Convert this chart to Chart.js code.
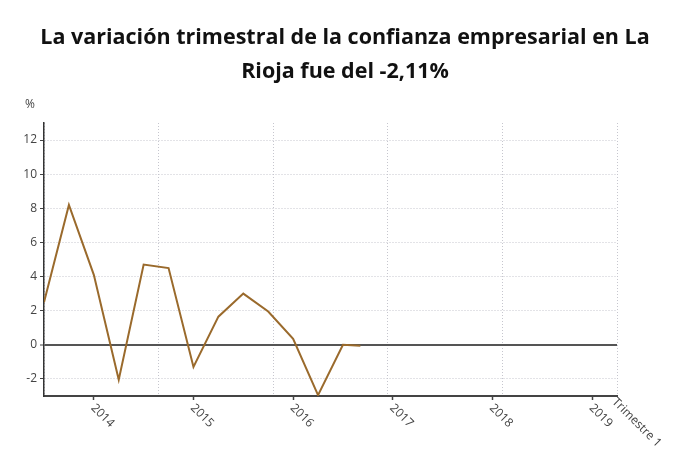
<!DOCTYPE html>
<html>
<head>
<meta charset="utf-8">
<script src="https://cdn.jsdelivr.net/npm/chart.js@4/dist/chart.umd.min.js"></script>
<style>
html,body{margin:0;padding:0;background:#fff;}
#wrap{width:690px;height:465px;}
</style>
</head>
<body>
<div id="wrap"><canvas id="c" width="690" height="465"></canvas></div>
<script>
const titleLines = ['La variación trimestral de la confianza empresarial en La', 'Rioja fue del -2,11%'];
const unitLabel = '%';
const axisLabel = 'Trimestre 1';
// x position in quarters (0 = 3rd quarter 2013); last point is where the line stops in the picture
const quarterIdx = [0, 1, 2, 3, 4, 5, 6, 7, 8, 9, 10, 11, 12, 12.7];
const values = [2.5, 8.2, 4.1, -2.05, 4.7, 4.5, -1.3, 1.65, 3.0, 1.95, 0.35, -2.95, 0.0, -0.05];
const yearTickPos = [2, 6, 10, 14, 18, 22];
const yearLabels = ['2014', '2015', '2016', '2017', '2018', '2019'];
const gridPos = [0, 4.6, 9.2, 13.8, 18.4, 23];
const yTicks = [-2, 0, 2, 4, 6, 8, 10, 12];
const xMin = 0, xMax = 23, yMin = -3, yMax = 13;

const FONT = "'Open Sans', 'Noto Sans', sans-serif";

const labelPlugin = {
  id: 'rotLabels',
  afterDraw(chart) {
    const ctx = chart.ctx;
    const xs = chart.scales.x;
    const ys = chart.scales.y;
    ctx.save();
    ctx.fillStyle = '#444';
    ctx.font = '12px ' + FONT;
    ctx.textAlign = 'left';
    ctx.textBaseline = 'middle';
    yearTickPos.forEach((v, i) => {
      const px = xs.getPixelForValue(v);
      ctx.save();
      ctx.translate(px - 1, xs.top + 10);
      ctx.rotate(Math.PI / 4);
      ctx.fillText(yearLabels[i], 0, 0);
      ctx.restore();
    });
    const pe = xs.getPixelForValue(xMax);
    ctx.save();
    ctx.translate(pe - 3, xs.top + 4);
    ctx.rotate(Math.PI / 4);
    ctx.fillText(axisLabel, 0, 0);
    ctx.restore();
    ctx.fillText(unitLabel, ys.left + 25, chart.chartArea.top - 18);
    ctx.restore();
  }
};

new Chart(document.getElementById('c'), {
  type: 'line',
  data: {
    datasets: [{
      data: quarterIdx.map((x, i) => ({ x: x, y: values[i] })),
      borderColor: '#9a6a2c',
      borderWidth: 2,
      pointRadius: 0,
      tension: 0,
      fill: false
    }]
  },
  options: {
    responsive: false,
    animation: false,
    layout: { padding: { left: 0, right: 0, top: 0, bottom: 65 } },
    plugins: {
      legend: { display: false },
      tooltip: { enabled: false },
      title: {
        display: true,
        text: titleLines,
        color: '#111',
        font: { family: FONT, size: 21.5, weight: 'bold', lineHeight: 34 / 21.5 },
        padding: { top: 21, bottom: 34 }
      }
    },
    scales: {
      x: {
        type: 'linear',
        position: 'bottom',
        min: xMin, max: xMax,
        afterBuildTicks: s => { s.ticks = yearTickPos.map(v => ({ value: v })); },
        ticks: { display: false },
        grid: { drawOnChartArea: false, drawTicks: true, tickLength: 4, tickColor: '#444', tickWidth: 1.5 },
        border: { display: true, color: '#444', width: 2 }
      },
      x2: {
        type: 'linear',
        position: 'bottom',
        min: xMin, max: xMax,
        afterBuildTicks: s => { s.ticks = gridPos.map(v => ({ value: v })); },
        ticks: { display: false },
        grid: { drawOnChartArea: true, drawTicks: false, color: '#c6c6ce', lineWidth: 1 },
        border: { display: false, dash: [1, 2] }
      },
      y: {
        type: 'linear',
        min: yMin, max: yMax,
        afterBuildTicks: s => { s.ticks = yTicks.map(v => ({ value: v })); },
        afterFit: s => { s.width = 44; },
        ticks: { color: '#444', font: { family: FONT, size: 12 }, padding: 3 },
        grid: {
          color: c => (c.tick && c.tick.value === 0) ? '#555' : '#c6c6ce',
          lineWidth: c => (c.tick && c.tick.value === 0) ? 2 : 1,
          drawTicks: true, tickLength: 4, tickColor: '#444', tickWidth: 1
        },
        border: {
          display: true, color: '#333', width: 1.5,
          dash: c => (c.tick && c.tick.value === 0) ? [] : [1, 2]
        }
      },
      yR: {
        type: 'linear',
        position: 'right',
        min: yMin, max: yMax,
        afterFit: s => { s.width = 73; },
        ticks: { display: false },
        grid: { display: false },
        border: { display: false }
      }
    }
  },
  plugins: [labelPlugin]
});
</script>
</body>
</html>
